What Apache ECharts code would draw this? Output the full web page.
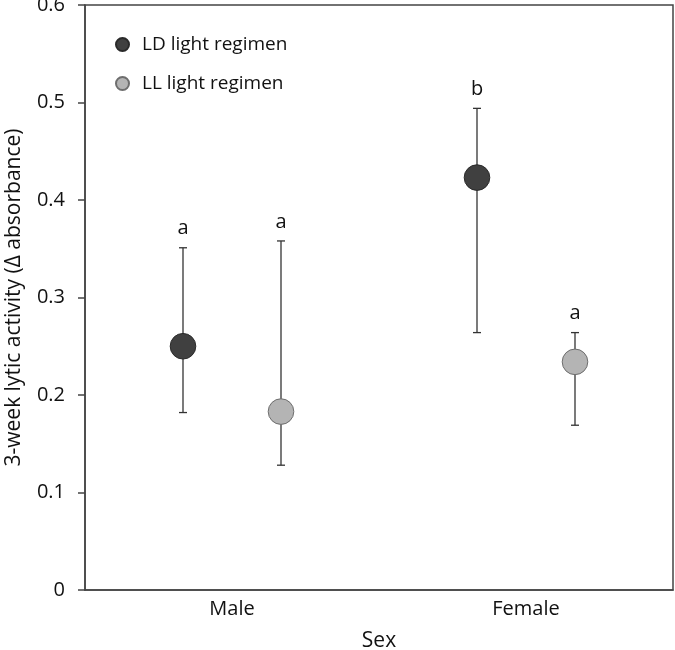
<!DOCTYPE html>
<html>
<head>
<meta charset="utf-8">
<script src="https://cdn.jsdelivr.net/npm/echarts@6/dist/echarts.min.js"></script>
<style>html,body{margin:0;padding:0;background:#fff}#c{width:675px;height:650px}</style>
</head>
<body>
<div id="c"></div>
<script>
const categories = ['Male', 'Female'];
const yTicks = [0, 0.1, 0.2, 0.3, 0.4, 0.5, 0.6];
const ldMean = [0.250, 0.423];
const ldLow = [0.182, 0.264];
const ldHigh = [0.351, 0.494];
const ldLetters = ['a', 'b'];
const llMean = [0.183, 0.234];
const llLow = [0.128, 0.169];
const llHigh = [0.358, 0.264];
const llLetters = ['a', 'a'];

const FONT = 'Open Sans';

function makeData(mean, low, high) {
  return categories.map((c, i) => [i, mean[i], low[i], high[i]]);
}

function makeRender(offsetFrac, fill, stroke, letters) {
  return function (params, api) {
    const i = api.value(0);
    const c = api.coord([i, api.value(1)]);
    const band = api.size([1, 0])[0];
    const x = c[0] + offsetFrac * band;
    const yLo = api.coord([i, api.value(2)])[1];
    const yHi = api.coord([i, api.value(3)])[1];
    const lineStyle = { stroke: '#333333', lineWidth: 1.3 };
    const cap = 4;
    return {
      type: 'group',
      children: [
        { type: 'line', shape: { x1: x, y1: yLo, x2: x, y2: yHi }, style: lineStyle },
        { type: 'line', shape: { x1: x - cap, y1: yLo, x2: x + cap, y2: yLo }, style: lineStyle },
        { type: 'line', shape: { x1: x - cap, y1: yHi, x2: x + cap, y2: yHi }, style: lineStyle },
        { type: 'circle', shape: { cx: x, cy: c[1], r: 12.8 }, style: { fill: fill, stroke: stroke, lineWidth: 1 } },
        { type: 'text', x: x, y: yHi - 9, style: { text: letters[params.dataIndex], fill: '#111', font: '20px "' + FONT + '"', textAlign: 'center', textVerticalAlign: 'bottom' } }
      ]
    };
  };
}

const chart = echarts.init(document.getElementById('c'));
chart.setOption({
  animation: false,
  backgroundColor: '#fff',
  textStyle: { fontFamily: FONT },
  grid: { left: 85, right: 2, top: 5, bottom: 60, outerBoundsMode: 'none', containLabel: false, show: true, borderColor: '#444', borderWidth: 1.5, backgroundColor: 'transparent' },
  legend: {
    orient: 'vertical', left: 110, top: 30, icon: 'circle', itemWidth: 13, itemHeight: 13, itemGap: 20,
    textStyle: { fontSize: 19, color: '#111', fontFamily: FONT, padding: [0, 0, 0, 8] },
    data: ['LD light regimen', 'LL light regimen']
  },
  xAxis: {
    type: 'category', data: categories, boundaryGap: true,
    axisLine: { lineStyle: { color: '#444', width: 1.5 } },
    axisTick: { show: false },
    axisLabel: { fontSize: 20, color: '#111', margin: 9 },
    name: 'Sex', nameLocation: 'middle', nameGap: 41,
    nameTextStyle: { fontSize: 21, color: '#111' }
  },
  yAxis: {
    type: 'value', min: 0, max: 0.6, interval: 0.1,
    axisLine: { show: true, lineStyle: { color: '#444', width: 1.5 } },
    axisTick: { show: true, inside: false, length: 7, lineStyle: { color: '#444', width: 1.5 } },
    splitLine: { show: false },
    axisLabel: { fontSize: 20, color: '#111', margin: 20, formatter: v => (v === 0 ? '0' : v.toFixed(1)) },
    name: '3-week lytic activity (Δ absorbance)', nameLocation: 'middle', nameGap: 60,
    nameTextStyle: { fontSize: 21, color: '#111' }
  },
  series: [
    {
      name: 'LD light regimen', type: 'custom', clip: false,
      itemStyle: { color: '#404040', borderColor: '#2a2a2a', borderWidth: 1 },
      renderItem: makeRender(-1 / 6, '#404040', '#2a2a2a', ldLetters),
      encode: { x: 0, y: [1, 2, 3] },
      data: makeData(ldMean, ldLow, ldHigh)
    },
    {
      name: 'LL light regimen', type: 'custom', clip: false,
      itemStyle: { color: '#b4b4b4', borderColor: '#6e6e6e', borderWidth: 1 },
      renderItem: makeRender(1 / 6, '#b4b4b4', '#6e6e6e', llLetters),
      encode: { x: 0, y: [1, 2, 3] },
      data: makeData(llMean, llLow, llHigh)
    }
  ]
});
</script>
</body>
</html>
